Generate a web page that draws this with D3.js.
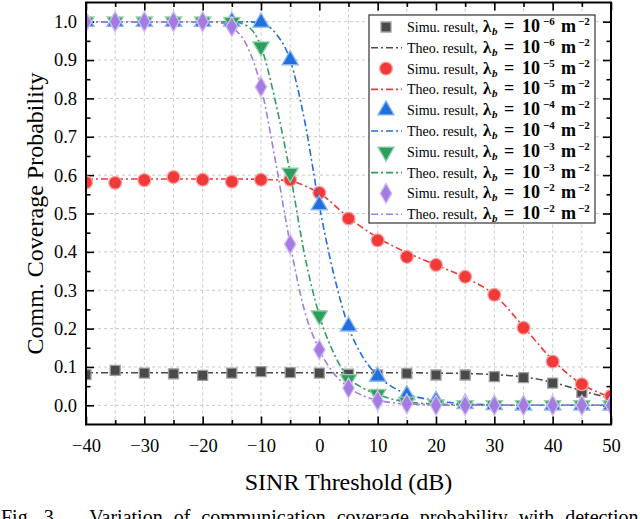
<!DOCTYPE html>
<html>
<head>
<meta charset="utf-8">
<script src="https://cdn.jsdelivr.net/npm/d3@7/dist/d3.min.js"></script>
<style>
  body { margin: 0; background: #fff; }
</style>
</head>
<body>
<div id="chart"></div>
<script>
// SINR thresholds (dB) of the simulated points
var sinr = [-40, -35, -30, -25, -20, -15, -10, -5, 0, 5, 10, 15, 20, 25, 30, 35, 40, 45, 50];

// simulated coverage probability, one array per BS density
var simu6 = [0.080, 0.091, 0.084, 0.082, 0.078, 0.084, 0.088, 0.085, 0.084, 0.081, 0.079, 0.083, 0.079, 0.079, 0.075, 0.072, 0.058, 0.034, 0.012];
var simu5 = [0.581, 0.580, 0.587, 0.595, 0.588, 0.583, 0.588, 0.588, 0.554, 0.487, 0.430, 0.387, 0.366, 0.335, 0.288, 0.202, 0.114, 0.055, 0.024];
var simu4 = [1, 1, 1, 1, 1, 1, 0.998, 0.900, 0.522, 0.206, 0.075, 0.027, 0.012, 0.004, 0.001, 0, 0, 0, 0];
var simu3 = [1, 1, 1, 1, 1, 0.999, 0.935, 0.606, 0.234, 0.068, 0.029, 0.009, 0.002, 0, 0, 0, 0, 0, 0];
var simu2 = [1, 1, 1, 1, 1, 0.987, 0.830, 0.420, 0.145, 0.045, 0.012, 0.004, 0, 0, 0, 0, 0, 0, 0];

// theoretical curves (read at a finer step where they fall fast)
var theo6X = [-40, -35, -30, -25, -20, -15, -10, -5, 0, 5, 10, 15, 20, 25, 30, 35, 40, 45, 50];
var theo6 = [0.085, 0.085, 0.085, 0.085, 0.085, 0.085, 0.085, 0.085, 0.085, 0.085, 0.085, 0.085, 0.084, 0.083, 0.080, 0.074, 0.060, 0.038, 0.018];
var theo5X = [-40, -35, -30, -25, -20, -15, -10, -5, -2.5, 0, 5, 10, 15, 20, 25, 30, 35, 40, 45, 50];
var theo5 = [0.59, 0.59, 0.59, 0.59, 0.59, 0.59, 0.589, 0.585, 0.572, 0.553, 0.490, 0.437, 0.398, 0.366, 0.333, 0.288, 0.205, 0.118, 0.055, 0.022];
var theo4X = [-40, -35, -30, -25, -20, -15, -12.5, -10, -7.5, -5, -2.5, 0, 2.5, 5, 7.5, 10, 12.5, 15, 20, 25, 30, 35, 40, 45, 50];
var theo4 = [1, 1, 1, 1, 1, 1, 1, 0.996, 0.970, 0.900, 0.740, 0.520, 0.340, 0.205, 0.125, 0.077, 0.048, 0.030, 0.012, 0.004, 0.001, 0, 0, 0, 0];
var theo3X = [-40, -35, -30, -25, -20, -15, -12.5, -10, -7.5, -5, -2.5, 0, 2.5, 5, 7.5, 10, 12.5, 15, 20, 25, 30, 35, 40, 45, 50];
var theo3 = [1, 1, 1, 1, 1, 1, 0.990, 0.935, 0.790, 0.605, 0.390, 0.235, 0.135, 0.072, 0.045, 0.028, 0.016, 0.009, 0.003, 0.001, 0, 0, 0, 0, 0];
var theo2X = [-40, -35, -30, -25, -20, -17.5, -15, -12.5, -10, -7.5, -5, -2.5, 0, 2.5, 5, 7.5, 10, 12.5, 15, 20, 25, 30, 35, 40, 45, 50];
var theo2 = [1, 1, 1, 1, 1, 0.998, 0.985, 0.940, 0.830, 0.635, 0.420, 0.245, 0.145, 0.083, 0.047, 0.025, 0.013, 0.007, 0.004, 0.001, 0, 0, 0, 0, 0, 0];

var densityExp = ["\u22126", "\u22125", "\u22124", "\u22123", "\u22122"];
var xTicks = [-40, -30, -20, -10, 0, 10, 20, 30, 40, 50];
var xMinor = [-35, -25, -15, -5, 5, 15, 25, 35, 45];
var yTicks = [0, 0.1, 0.2, 0.3, 0.4, 0.5, 0.6, 0.7, 0.8, 0.9, 1.0];
var yMinor = [0.05, 0.15, 0.25, 0.35, 0.45, 0.55, 0.65, 0.75, 0.85, 0.95];

var serif = "'Liberation Serif', Tinos, serif";

var series = [
  {simu: simu6, tx: theo6X, ty: theo6, color: "#4a4a4a", ring: "#a0a0a0", shape: d3.symbolSquare, size: 100},
  {simu: simu5, tx: theo5X, ty: theo5, color: "#f03a3a", ring: "#f8a3a3", shape: d3.symbolCircle, size: 130},
  {simu: simu4, tx: theo4X, ty: theo4, color: "#1f6fdc", ring: "#8fb6ee", shape: d3.symbolTriangle, size: 115},
  {simu: simu3, tx: theo3X, ty: theo3, color: "#2e9e5b", ring: "#95d0ad", shape: d3.symbolTriangle, size: 115, flip: true},
  {simu: simu2, tx: theo2X, ty: theo2, color: "#a47be0", ring: "#d3bdf0", shape: d3.symbolDiamond, size: 115}
];

var margin = {top: 2.5, right: 29, bottom: 94.5, left: 86},
    width = 640 - margin.left - margin.right,
    height = 519 - margin.top - margin.bottom;

var root = d3.select("#chart")
  .append("svg")
    .attr("width", 640)
    .attr("height", 519);

var svg = root.append("g")
    .attr("transform", "translate(" + margin.left + "," + margin.top + ")");

var x = d3.scaleLinear().domain([-40, 50]).range([0, width]);
var y = d3.scaleLinear().domain([-0.05, 1.05]).range([height, 0]);

svg.append("clipPath").attr("id", "clip")
  .append("rect").attr("width", width).attr("height", height);

// grid
svg.append("g").selectAll("line")
  .data(xTicks.concat(xMinor).filter(function (d) { return d > -40 && d < 50; }))
  .enter().append("line")
    .attr("x1", function (d) { return x(d); }).attr("x2", function (d) { return x(d); })
    .attr("y1", 0).attr("y2", height)
    .attr("stroke", "#c8c8c8").attr("stroke-dasharray", "3,3");
svg.append("g").selectAll("line")
  .data(yTicks)
  .enter().append("line")
    .attr("y1", function (d) { return y(d); }).attr("y2", function (d) { return y(d); })
    .attr("x1", 0).attr("x2", width)
    .attr("stroke", "#c8c8c8").attr("stroke-dasharray", "3,3");

// axes, ticks pointing inward
function styleAxis(g) {
  g.select(".domain").remove();
  g.selectAll("line").attr("stroke", "#000").attr("stroke-width", 1.6);
  g.selectAll("text").attr("fill", "#000")
    .style("font-family", serif).style("font-size", "18.5px");
}
svg.append("g")
  .attr("transform", "translate(0," + height + ")")
  .call(d3.axisBottom(x).tickValues(xTicks).tickSize(-8).tickPadding(14.5).tickFormat(d3.format("d")))
  .call(styleAxis);
svg.append("g")
  .attr("transform", "translate(0," + height + ")")
  .call(d3.axisBottom(x).tickValues(xMinor).tickSize(-4.5).tickFormat(""))
  .call(styleAxis);
svg.append("g")
  .call(d3.axisTop(x).tickValues(xTicks).tickSize(-8).tickFormat(""))
  .call(styleAxis);
svg.append("g")
  .call(d3.axisTop(x).tickValues(xMinor).tickSize(-4.5).tickFormat(""))
  .call(styleAxis);
svg.append("g")
  .call(d3.axisLeft(y).tickValues(yTicks).tickSize(-8).tickPadding(9).tickFormat(d3.format(".1f")))
  .call(styleAxis);
svg.append("g")
  .call(d3.axisLeft(y).tickValues(yMinor).tickSize(-4.5).tickFormat(""))
  .call(styleAxis);
svg.append("g")
  .attr("transform", "translate(" + width + ",0)")
  .call(d3.axisRight(y).tickValues(yTicks).tickSize(-8).tickFormat(""))
  .call(styleAxis);
svg.append("g")
  .attr("transform", "translate(" + width + ",0)")
  .call(d3.axisRight(y).tickValues(yMinor).tickSize(-4.5).tickFormat(""))
  .call(styleAxis);

// curves and markers
var plot = svg.append("g").attr("clip-path", "url(#clip)");
var line = d3.line()
  .x(function (d) { return x(d[0]); })
  .y(function (d) { return y(d[1]); })
  .curve(d3.curveMonotoneX);

function marker(sel, s) {
  sel.append("path")
    .attr("d", d3.symbol().type(s.shape).size(s.size))
    .attr("transform", s.flip ? "rotate(180)" : null)
    .attr("fill", s.color)
    .attr("stroke", s.ring)
    .attr("stroke-width", 1.3);
}

series.forEach(function (s) {
  plot.append("path")
    .datum(s.tx.map(function (v, i) { return [v, s.ty[i]]; }))
    .attr("fill", "none")
    .attr("stroke", s.color)
    .attr("stroke-width", 1.6)
    .attr("stroke-dasharray", "7,3,2,3")
    .attr("d", line);
  plot.append("g").selectAll("g")
    .data(s.simu.map(function (v, i) { return [sinr[i], v]; }))
    .enter().append("g")
      .attr("transform", function (d) { return "translate(" + x(d[0]) + "," + y(d[1]) + ")"; })
      .each(function () { marker(d3.select(this), s); });
});

// frame
svg.append("rect")
  .attr("width", width).attr("height", height)
  .attr("fill", "none").attr("stroke", "#000").attr("stroke-width", 2);

// axis titles
root.append("text")
  .attr("x", margin.left + width / 2)
  .attr("y", 489.5)
  .attr("text-anchor", "middle")
  .style("font-family", serif).style("font-size", "24px")
  .text("SINR Threshold (dB)");
root.append("text")
  .attr("transform", "translate(43," + (margin.top + height / 2) + ") rotate(-90)")
  .attr("text-anchor", "middle")
  .style("font-family", serif).style("font-size", "24px")
  .text("Comm. Coverage Probability");

// legend
var legend = root.append("g");
legend.append("rect")
  .attr("x", 369).attr("y", 15).attr("width", 226).attr("height", 208)
  .attr("fill", "#fff").attr("stroke", "#333").attr("stroke-width", 1.2);

series.forEach(function (s, k) {
  [0, 1].forEach(function (kind) {
    var row = k * 2 + kind;
    var cy = 27 + row * 20.8;
    if (kind === 0) {
      var m = legend.append("g").attr("transform", "translate(386," + cy + ")");
      marker(m, s);
    } else {
      legend.append("line")
        .attr("x1", 371).attr("x2", 402).attr("y1", cy).attr("y2", cy)
        .attr("stroke", s.color).attr("stroke-width", 1.6)
        .attr("stroke-dasharray", "7,3,2,3");
    }
    var t = legend.append("text").attr("y", cy + 5)
      .style("font-family", serif).style("font-size", "14px");
    t.append("tspan").attr("x", 407).text(kind === 0 ? "Simu. result," : "Theo. result,");
    t.append("tspan").attr("x", 483).style("font-weight", "bold").style("font-size", "17px").text("\u03bb");
    t.append("tspan").attr("x", 492).attr("dy", 3).style("font-weight", "bold").style("font-style", "italic").style("font-size", "11px").text("b");
    t.append("tspan").attr("x", 504).attr("dy", -3).style("font-weight", "bold").style("font-size", "18px").text("=");
    t.append("tspan").attr("x", 522).style("font-weight", "bold").style("font-size", "18px").text("10");
    t.append("tspan").attr("x", 543).attr("dy", -7).style("font-weight", "bold").style("font-size", "11px").text(densityExp[k]);
    t.append("tspan").attr("x", 561).attr("dy", 7).style("font-weight", "bold").style("font-size", "18px").text("m");
    t.append("tspan").attr("x", 578).attr("dy", -7).style("font-weight", "bold").style("font-size", "11px").text("\u22122");
  });
});

// caption, cut by the bottom edge as in the source figure
root.append("text")
  .attr("x", 1)
  .attr("y", 524)
  .style("font-family", serif).style("font-size", "20px")
  .style("word-spacing", "6px")
  .text("Fig. 3.\u2003 Variation of communication coverage probability with detection");
</script>
</body>
</html>
